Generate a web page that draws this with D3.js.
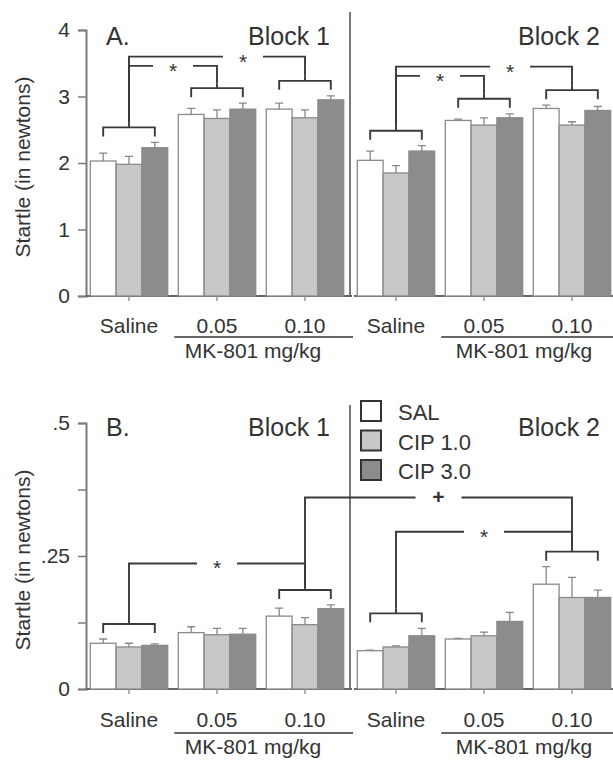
<!DOCTYPE html>
<html>
<head>
<meta charset="utf-8">
<style>
  body { margin: 0; background: #fff; }
  svg { display: block; }
  text { font-family: "Liberation Sans", Arial, sans-serif; fill: #333; }
</style>
</head>
<body>
<svg width="613" height="766"></svg>
<script src="https://cdnjs.cloudflare.com/ajax/libs/d3/7.8.5/d3.min.js"></script>
<script>
// ---- data ----
const doses = ["Saline", "0.05", "0.10"];
const groups = ["SAL", "CIP 1.0", "CIP 3.0"];
const blocks = ["Block 1", "Block 2"];

// means [dose][group], panel A (startle, N)
const meanA1 = [[2.03, 1.98, 2.23], [2.73, 2.67, 2.81], [2.81, 2.68, 2.95]];
const semA1  = [[0.12, 0.12, 0.08], [0.09, 0.13, 0.09], [0.09, 0.12, 0.06]];
const meanA2 = [[2.04, 1.85, 2.18], [2.64, 2.57, 2.68], [2.82, 2.57, 2.79]];
const semA2  = [[0.14, 0.11, 0.08], [0.02, 0.11, 0.06], [0.05, 0.05, 0.06]];
// panel B
const meanB1 = [[0.086, 0.079, 0.082], [0.106, 0.102, 0.103], [0.137, 0.121, 0.151]];
const semB1  = [[0.008, 0.007, 0.003], [0.011, 0.012, 0.011], [0.015, 0.013, 0.007]];
const meanB2 = [[0.072, 0.079, 0.100], [0.094, 0.100, 0.127], [0.197, 0.172, 0.172]];
const semB2  = [[0.001, 0.002, 0.014], [0.001, 0.007, 0.017], [0.033, 0.038, 0.014]];

const ticksA = [0, 1, 2, 3, 4];
const ticksB = [0, 0.125, 0.25, 0.375, 0.5];
const tickLabelsB = ["0", "", ".25", "", ".5"];

// significance lines: level in data units
const compA = [
  { fromBlock: 0, from: "Saline", toBlock: 0, to: "0.05", level: 3.46, label: "*" },
  { fromBlock: 0, from: "Saline", toBlock: 0, to: "0.10", level: 3.60, label: "*" },
  { fromBlock: 1, from: "Saline", toBlock: 1, to: "0.05", level: 3.31, label: "*" },
  { fromBlock: 1, from: "Saline", toBlock: 1, to: "0.10", level: 3.45, label: "*" }
];
const compB = [
  { fromBlock: 0, from: "Saline", toBlock: 0, to: "0.10", level: 0.236, label: "*" },
  { fromBlock: 1, from: "Saline", toBlock: 1, to: "0.10", level: 0.2955, label: "*" },
  { fromBlock: 0, from: "0.10", toBlock: 1, to: "0.10", level: 0.36, label: "+" }
];

const fills = ["#ffffff", "#c8c8c8", "#8c8c8c"];
const ink = "#3a3a3a";

const svg = d3.select("svg");

const blockX = [
  d3.scaleBand().domain(doses).range([85, 349]).paddingInner(0.12).paddingOuter(0.06),
  d3.scaleBand().domain(doses).range([352, 616]).paddingInner(0.12).paddingOuter(0.06)
];
const inner = d3.scaleBand().domain(groups).range([0, blockX[0].bandwidth()]);

function drawPanel(opt) {
  const g = svg.append("g");
  const y = d3.scaleLinear().domain(opt.domain).range(opt.range);
  const y0 = y(0);

  // y axis
  const yAxis = d3.axisLeft(y).tickValues(opt.ticks).tickSize(8).tickPadding(8)
    .tickFormat((d, i) => opt.tickLabels[i]);
  const ya = g.append("g").attr("transform", "translate(86,0)").call(yAxis);
  ya.select(".domain").attr("stroke", "#7a7a7a").attr("stroke-width", 2);
  ya.selectAll(".tick line").attr("stroke", "#7a7a7a").attr("stroke-width", 1.5);
  ya.selectAll(".tick text").style("font-size", "21px").attr("fill", "#333")
    .style("font-family", "'Liberation Sans', Arial, sans-serif");

  // y title
  g.append("text")
    .attr("transform", `translate(30,${(opt.range[0] + opt.range[1]) / 2 + 4}) rotate(-90)`)
    .attr("text-anchor", "middle")
    .style("font-size", "21px")
    .text("Startle (in newtons)");

  // divider between blocks
  g.append("line")
    .attr("x1", 350).attr("x2", 350)
    .attr("y1", opt.dividerTop).attr("y2", y0)
    .attr("stroke", "#7a7a7a").attr("stroke-width", 2);

  const tops = [];
  blocks.forEach((bName, b) => {
    const x = blockX[b];
    const means = opt.means[b], sems = opt.sems[b];
    tops.push(doses.map((d, i) => d3.max(groups, (gr, j) => means[i][j] + sems[i][j])));

    // x axis
    const xa = g.append("g").attr("transform", `translate(0,${y0})`)
      .call(d3.axisBottom(x).tickSize(5).tickPadding(opt.labelPad).tickSizeOuter(0));
    xa.select(".domain").attr("stroke", "#666").attr("stroke-width", 2)
      .attr("d", `M${b === 0 ? 86 : 354},0H${b === 0 ? 352 : 616}`);
    xa.selectAll(".tick line").attr("stroke", "#999").attr("stroke-width", 1.5);
    xa.selectAll(".tick text").style("font-size", "21px").attr("fill", "#333").attr("dy", "0.9em")
      .style("font-family", "'Liberation Sans', Arial, sans-serif");

    // bars
    const cells = [];
    doses.forEach((d, i) => groups.forEach((gr, j) => cells.push({ d, gr, j, m: means[i][j], s: sems[i][j] })));
    const bars = g.append("g");
    bars.selectAll("rect").data(cells).join("rect")
      .attr("x", c => x(c.d) + inner(c.gr))
      .attr("width", inner.bandwidth())
      .attr("y", c => y(c.m))
      .attr("height", c => y0 - y(c.m))
      .attr("fill", c => fills[c.j])
      .attr("stroke", "#8a8a8a").attr("stroke-width", 1.3);
    // error bars (upper only)
    bars.selectAll(".err").data(cells).join("path")
      .attr("class", "err")
      .attr("d", c => {
        const cx = x(c.d) + inner(c.gr) + inner.bandwidth() / 2;
        return `M${cx},${y(c.m)}V${y(c.m + c.s)}M${cx - 4},${y(c.m + c.s)}H${cx + 4}`;
      })
      .attr("fill", "none").attr("stroke", "#888").attr("stroke-width", 1.3);

    // MK-801 underline + label
    const ux1 = x("0.05") - 4, ux2 = b === 0 ? 353 : 616;
    g.append("line").attr("x1", ux1).attr("x2", ux2)
      .attr("y1", y0 + opt.ruleGap).attr("y2", y0 + opt.ruleGap)
      .attr("stroke", "#333").attr("stroke-width", 1.5);
    g.append("text")
      .attr("x", (x("0.05") + x("0.10") + x.bandwidth()) / 2 - (b === 0 ? 8 : 4))
      .attr("y", y0 + opt.ruleGap + 21)
      .attr("text-anchor", "middle")
      .style("font-size", "21px")
      .text("MK-801 mg/kg");

    // block title
    g.append("text")
      .attr("x", b === 0 ? 330 : 600).attr("y", opt.titleY)
      .attr("text-anchor", "end")
      .style("font-size", "25px")
      .text(bName);
  });

  // panel letter
  g.append("text").attr("x", 106).attr("y", opt.titleY)
    .style("font-size", "25px").text(opt.letter);

  // brackets over dose groups used in comparisons
  const bracketY = (b, d) => y(tops[b][doses.indexOf(d)]) - 15;
  const cx = (b, d) => blockX[b](d) + blockX[b].bandwidth() / 2;
  const used = [];
  opt.comps.forEach(c => {
    [[c.fromBlock, c.from], [c.toBlock, c.to]].forEach(k => {
      if (!used.some(u => u[0] === k[0] && u[1] === k[1])) used.push(k);
    });
  });
  const sig = g.append("g").attr("fill", "none").attr("stroke", ink).attr("stroke-width", 1.9);
  used.forEach(([b, d]) => {
    const xl = blockX[b](d) + inner("SAL") + inner.bandwidth() / 2;
    const xr = blockX[b](d) + inner("CIP 3.0") + inner.bandwidth() / 2;
    const by = bracketY(b, d);
    sig.append("path").attr("d", `M${xl},${by + 9}V${by}H${xr}V${by + 9}M${cx(b, d)},${by}V${by - 5}`);
  });

  // comparison lines
  const ends = opt.comps.flatMap(c => [cx(c.fromBlock, c.from), cx(c.toBlock, c.to)]);
  opt.comps.forEach(c => {
    const x1 = cx(c.fromBlock, c.from), x2 = cx(c.toBlock, c.to);
    const ly = y(c.level);
    let lx = (x1 + x2) / 2;
    if (ends.some(e => Math.abs(e - lx) < 22)) lx += 26;
    const gap = c.label === "+" ? 23 : 20;
    sig.append("path").attr("d",
      `M${x1},${bracketY(c.fromBlock, c.from) - 5}V${ly}H${lx - gap}` +
      `M${lx + gap},${ly}H${x2}V${bracketY(c.toBlock, c.to) - 5}`);
    g.append("text")
      .attr("x", lx).attr("y", ly + (c.label === "+" ? 7 : 12))
      .attr("text-anchor", "middle")
      .style("font-size", "21px")
      .style("font-weight", c.label === "+" ? "bold" : "normal")
      .attr("fill", "#222")
      .text(c.label);
  });
}

drawPanel({
  domain: [0, 4], range: [296, 30], ticks: ticksA, tickLabels: ticksA.map(String),
  means: [meanA1, meanA2], sems: [semA1, semA2], comps: compA,
  dividerTop: 12, titleY: 45, letter: "A.", labelPad: 13, ruleGap: 41
});
drawPanel({
  domain: [0, 0.5], range: [689, 423], ticks: ticksB, tickLabels: tickLabelsB,
  means: [meanB1, meanB2], sems: [semB1, semB2], comps: compB,
  dividerTop: 405, titleY: 436, letter: "B.", labelPad: 14, ruleGap: 44
});

// legend
const leg = svg.append("g").attr("transform", "translate(361,401)");
groups.forEach((gr, j) => {
  leg.append("rect").attr("x", 0).attr("y", j * 29.5).attr("width", 20).attr("height", 20)
    .attr("fill", fills[j]).attr("stroke", "#333").attr("stroke-width", 2);
  leg.append("text").attr("x", 37).attr("y", j * 29.5 + 19)
    .style("font-size", "22px").text(gr);
});
</script>
</body>
</html>
